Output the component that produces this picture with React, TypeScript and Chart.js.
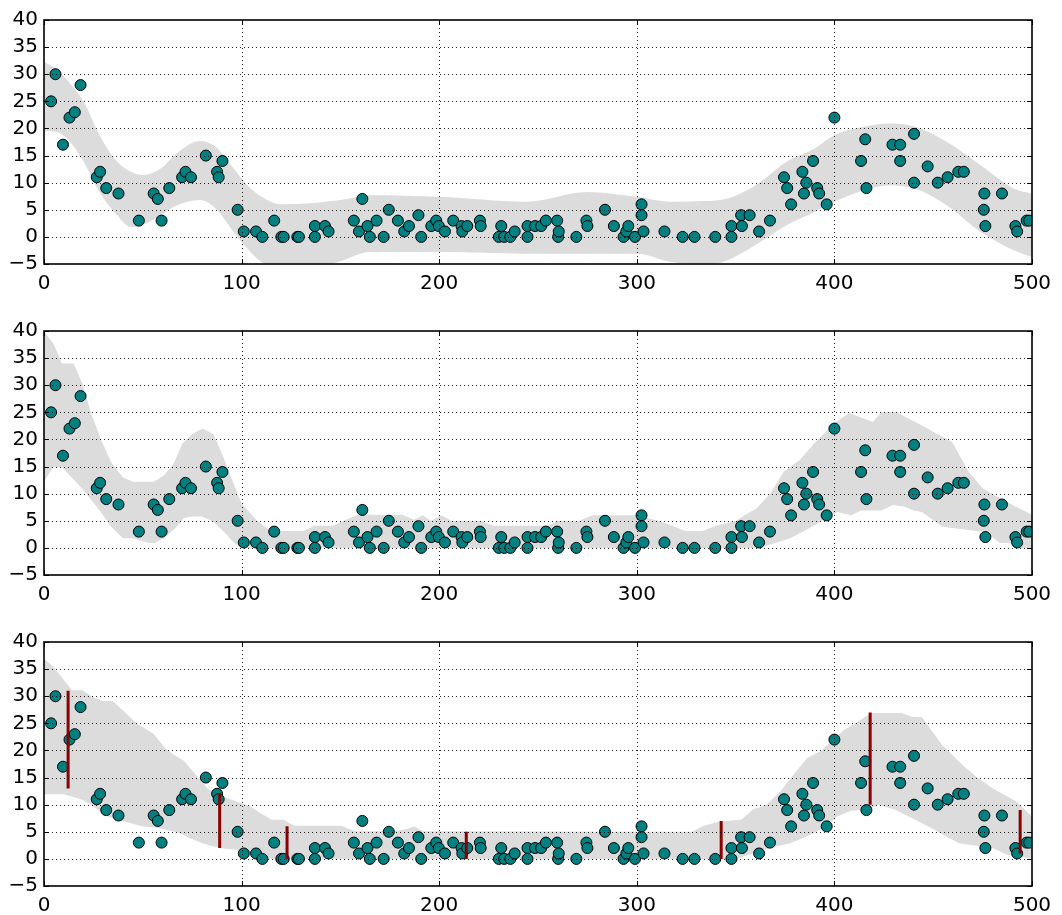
import React, { useEffect, useRef } from 'react';
import { Chart, registerables } from 'chart.js';
Chart.register(...registerables);

// ---- scatter observations (same in all panels) ----
const pointX = [
  3.6, 5.8, 9.6, 12.9, 15.6, 18.5, 26.7, 28.4, 31.5, 37.7, 48.0, 55.5, 57.6, 59.5, 63.4, 69.9, 71.6, 74.4,
  81.9, 87.6, 88.4, 90.3, 98.0, 101.1, 107.3, 110.5, 116.5, 120.1, 121.3, 128.2, 129.0, 137.1, 137.1, 142.2,
  144.0, 156.8, 159.4, 161.1, 163.7, 164.9, 168.3, 171.9, 174.5, 179.1, 182.3, 184.7, 189.5, 190.9, 196.0,
  198.5, 199.8, 202.9, 207.1, 211.3, 211.7, 214.2, 220.6, 221.0, 230.2, 231.4, 232.9, 236.0, 238.2, 244.7,
  244.7, 248.5, 251.6, 254.0, 259.7, 260.2, 260.5, 269.4, 274.5, 275.0, 283.9, 288.4, 293.3, 294.7, 295.7,
  299.1, 302.4, 302.4, 303.4, 314.0, 323.2, 329.2, 339.7, 347.9, 347.9, 352.8, 353.2, 357.1, 361.9, 367.4,
  374.5, 376.1, 378.1, 383.8, 384.6, 385.8, 389.2, 391.3, 392.3, 396.1, 400.0, 413.5, 415.6, 416.2, 429.4,
  433.3, 433.3, 440.3, 440.3, 447.2, 452.3, 457.3, 462.7, 465.5, 475.9, 475.6, 476.4, 484.8, 491.6, 492.5,
  497.3, 498.6,
];
const pointY = [
  25, 30, 17, 22, 23, 28, 11, 12, 9, 8, 3, 8, 7, 3, 9, 11, 12, 11,
  15, 12, 11, 14, 5, 1, 1, 0, 3, 0, 0, 0, 0, 2, 0, 2,
  1, 3, 1, 7, 2, 0, 3, 0, 5, 3, 1, 2, 4, 0, 2,
  3, 2, 1, 3, 2, 1, 2, 3, 2, 0, 2, 0, 0, 1, 2,
  0, 2, 2, 3, 3, 0, 1, 0, 3, 2, 5, 2, 0, 1, 2,
  0, 6, 4, 1, 1, 0, 0, 0, 0, 2, 4, 2, 4, 1, 3,
  11, 9, 6, 12, 8, 10, 14, 9, 8, 6, 22, 14, 18, 9, 17,
  17, 14, 19, 10, 13, 10, 11, 12, 12, 8, 5, 2, 8, 2, 1,
  3, 3,
];

// ---- panel 1: smooth band ----
const band1X = [0, 6, 12, 20, 28, 37, 44, 50, 59, 67, 79, 87, 96, 103, 111, 120, 135, 150, 165, 200, 244, 275, 300, 317, 334, 346, 360, 376, 390, 400, 415, 427, 441, 457, 474, 491, 500];
const band1Upper = [32.3, 31, 28.8, 25, 18.8, 13.9, 12, 11.4, 12.6, 15.4, 17.7, 16.6, 12.6, 9.5, 7.2, 6.0, 6.2, 6.8, 7.7, 7.4, 6.5, 8.3, 7.4, 6.5, 6.6, 7.1, 9.5, 13.9, 16.3, 18.8, 20.3, 20.9, 20.3, 17.5, 13.2, 8.9, 8.0];
const band1Lower = [19.5, 19.4, 18, 13.9, 8.3, 4.0, 1.8, 2.2, 4.0, 5.8, 6.8, 5.2, 0.9, -2.2, -4.9, -6, -6, -4.5, -2.8, -2.8, -3.1, -3.1, -3.1, -4.6, -5.2, -4.3, -1.5, 2.2, 4.6, 6.5, 8.6, 9.5, 8.9, 5.8, 0.9, -2.5, -3.7];

// ---- panel 2: piecewise band ----
const band2UpperX = [0, 5, 9, 15, 19.4, 23.7, 28.8, 34, 40, 45, 55.4, 60.5, 65.6, 70, 75, 80.2, 85.7, 90.5, 95.6, 100, 107.6, 114.5, 131.6, 136.8, 146.2, 152.2, 159, 181.3, 187.3, 191.6, 195.9, 201, 206.2, 220.7, 227.6, 255, 260, 271, 277.6, 299, 311, 317.8, 324.6, 333.2, 340, 350.3, 354.5, 360.5, 367.4, 374.2, 382.7, 389.6, 396.4, 400.7, 407.5, 419.5, 423.8, 431.5, 442.6, 459.7, 468, 475, 488.7, 500];
const band2UpperY = [40, 37.5, 34, 34, 30.3, 25, 20, 15.8, 13, 12.2, 12.2, 13.3, 15.5, 19.2, 21, 22, 21, 17, 12.2, 8.2, 5.1, 3.1, 3.1, 4.1, 4.1, 5.1, 6.1, 6.1, 5.2, 6.0, 5, 6.0, 5, 5, 4.1, 4.1, 5, 5, 6, 6, 5, 4.1, 3.1, 3.1, 4.1, 5, 6, 7.2, 10, 14, 16.3, 19.2, 21.7, 23.2, 24.9, 23.2, 25, 25, 22.9, 19.5, 14, 11, 8.2, 6.1];
const band2LowerX = [0, 4.8, 9, 19.4, 28.8, 34, 40, 45, 52.8, 56.2, 61.4, 66.5, 70.8, 75, 80, 85.7, 91.3, 96.5, 100.8, 362, 377.6, 389.6, 401.5, 408.4, 413.5, 423.8, 429.7, 435.7, 440, 444.3, 454.5, 476.8, 483.7, 491.3, 493.8, 500];
const band2LowerY = [12.2, 14.9, 14.9, 10.9, 6.6, 3.9, 1.8, 1.8, 0.9, 0.9, 2, 3.6, 5.5, 5.8, 5.8, 4.8, 2.9, 0.8, 0, 0, 1.8, 4.1, 6.6, 6.0, 6.9, 6.9, 7.9, 7.6, 6.9, 6.6, 3.9, 2.9, 0.9, 0.9, 0, 0];

// ---- panel 3: band + error bars ----
const band3UpperX = [0, 4.8, 14.2, 19.4, 24.5, 29.6, 34.8, 40.8, 46.8, 51, 55.4, 61.4, 65.6, 70.8, 76.8, 82.8, 90.5, 97.3, 104.2, 110.2, 115.3, 121.3, 126.5, 150.5, 157.3, 176.2, 183, 187.3, 191.6, 328, 333.2, 341.7, 352.8, 358.8, 365.6, 372.5, 379.3, 386.2, 393, 399, 405, 411.8, 418.6, 434, 439.1, 444.3, 454.5, 464.8, 471.6, 480.2, 492.1, 500];
const band3UpperY = [36.9, 35.4, 31.1, 31.1, 29.9, 29.1, 29.1, 27.1, 25, 24.1, 23.1, 20.4, 19.2, 18.1, 15.5, 13, 11.5, 10.6, 9.7, 8.3, 7.2, 7.2, 6.1, 6.1, 5.1, 5.1, 5.4, 6.0, 5.1, 5, 6.0, 6.9, 7.2, 9.1, 10, 12.4, 15.5, 18.6, 19.9, 21.9, 23.8, 25.3, 26.9, 26.9, 26.2, 26.1, 21, 17.3, 15.2, 13, 10.6, 7.8];
const band3LowerX = [0, 10, 14, 19.4, 23.7, 32.2, 40.8, 49.4, 58, 68.2, 73.4, 80.2, 88.8, 97.3, 106, 114.5, 350.3, 357, 367.4, 377.6, 384.5, 394.7, 401.5, 408.4, 417, 422, 430.6, 445.9, 463, 480.2, 487, 500];
const band3LowerY = [11.9, 11.9, 11.5, 10.9, 10, 7.8, 6.9, 6, 5.7, 4.8, 3.9, 2.9, 2, 1.7, 0.8, 0, 0, 0.8, 2, 2.9, 3.9, 5.7, 7.8, 8.9, 9.1, 10, 9.1, 6.3, 2.9, 2, 0.8, 0];

const errX = [12.2, 88.9, 123, 213.7, 342.7, 418.1, 494];
const errLow = [13, 2, 0, 0, 0, 10, 1];
const errHigh = [31, 12, 6, 5, 7, 27, 9];

const xTicks = [0, 100, 200, 300, 400, 500];
const yTicks = [-5, 0, 5, 10, 15, 20, 25, 30, 35, 40];

const TEAL = '#008080';
const BAND = '#dcdcdc';
const RED = '#8b0000';
const FONT = { family: '"DejaVu Sans", sans-serif', size: 20 };

const zip = (xs: number[], ys: number[]) => xs.map((x, i) => ({ x, y: ys[i] }));

const decor = {
  id: 'decor',
  afterDatasetsDraw(chart: any) {
    const { ctx, chartArea: a, scales } = chart;
    const xs = scales.x;
    const ys = scales.y;
    ctx.save();
    ctx.beginPath();
    ctx.rect(a.left, a.top, a.right - a.left, a.bottom - a.top);
    ctx.clip();
    ctx.strokeStyle = 'rgba(0,0,0,0.85)';
    ctx.lineWidth = 1;
    ctx.setLineDash([1, 3]);
    for (const v of xTicks) {
      const px = Math.round(xs.getPixelForValue(v)) + 0.5;
      if (px <= a.left + 2 || px >= a.right - 2) continue;
      ctx.beginPath();
      ctx.moveTo(px, a.top);
      ctx.lineTo(px, a.bottom);
      ctx.stroke();
    }
    for (const v of yTicks) {
      const py = Math.round(ys.getPixelForValue(v)) + 0.5;
      if (py <= a.top + 2 || py >= a.bottom - 2) continue;
      ctx.beginPath();
      ctx.moveTo(a.left, py);
      ctx.lineTo(a.right, py);
      ctx.stroke();
    }
    ctx.restore();
    ctx.save();
    ctx.setLineDash([]);
    ctx.strokeStyle = '#000';
    ctx.lineWidth = 1;
    const L = 5;
    for (const v of xTicks) {
      const px = Math.round(xs.getPixelForValue(v)) + 0.5;
      ctx.beginPath();
      ctx.moveTo(px, a.bottom);
      ctx.lineTo(px, a.bottom - L);
      ctx.moveTo(px, a.top);
      ctx.lineTo(px, a.top + L);
      ctx.stroke();
    }
    for (const v of yTicks) {
      const py = Math.round(ys.getPixelForValue(v)) + 0.5;
      ctx.beginPath();
      ctx.moveTo(a.left, py);
      ctx.lineTo(a.left + L, py);
      ctx.moveTo(a.right, py);
      ctx.lineTo(a.right - L, py);
      ctx.stroke();
    }
    ctx.lineWidth = 1.6;
    ctx.strokeRect(a.left, a.top, a.right - a.left, a.bottom - a.top);
    ctx.restore();
  },
};

function makeConfig(upper: { x: number; y: number }[], lower: { x: number; y: number }[], smooth: boolean, withErr: boolean) {
  const datasets: any[] = [];
  if (withErr) {
    const errData: any[] = [];
    errX.forEach((x, i) => {
      errData.push({ x, y: errLow[i] });
      errData.push({ x, y: errHigh[i] });
      errData.push({ x, y: null });
    });
    datasets.push({
      type: 'line',
      data: errData,
      borderColor: RED,
      borderWidth: 3,
      pointRadius: 0,
      spanGaps: false,
      fill: false,
      order: 0,
      borderCapStyle: 'butt',
    });
  }
  datasets.push({
    type: 'scatter',
    data: zip(pointX, pointY),
    backgroundColor: TEAL,
    borderColor: '#000',
    borderWidth: 1,
    pointRadius: 5.5,
    order: 1,
  });
  const lowerIndex = datasets.length;
  datasets.push({
    type: 'line',
    data: lower,
    borderColor: 'rgba(0,0,0,0)',
    borderWidth: 0,
    pointRadius: 0,
    fill: false,
    cubicInterpolationMode: smooth ? 'monotone' : 'default',
    tension: 0,
    order: 3,
  });
  datasets.push({
    type: 'line',
    data: upper,
    borderColor: 'rgba(0,0,0,0)',
    borderWidth: 0,
    pointRadius: 0,
    fill: { target: lowerIndex },
    backgroundColor: BAND,
    cubicInterpolationMode: smooth ? 'monotone' : 'default',
    tension: 0,
    order: 2,
  });
  return {
    type: 'scatter',
    data: { datasets },
    plugins: [decor],
    options: {
      animation: false,
      responsive: false,
      maintainAspectRatio: false,
      events: [],
      layout: { padding: { left: 0, right: 30, top: 20, bottom: 0 } },
      plugins: {
        legend: { display: false },
        tooltip: { enabled: false },
        filler: { drawTime: 'beforeDatasetsDraw' },
      },
      scales: {
        x: {
          type: 'linear',
          min: 0,
          max: 500,
          afterBuildTicks: (s: any) => { s.ticks = xTicks.map((v) => ({ value: v })); },
          ticks: { font: FONT, color: '#000', padding: 8, maxRotation: 0, autoSkip: false },
          grid: { display: false, drawTicks: false },
          border: { display: false },
          afterFit: (s: any) => { s.height = 29; },
        },
        y: {
          type: 'linear',
          min: -5,
          max: 40,
          afterBuildTicks: (s: any) => { s.ticks = yTicks.map((v) => ({ value: v })); },
          ticks: {
            font: FONT,
            color: '#000',
            padding: 6,
            autoSkip: false,
            callback: (v: number) => (v < 0 ? '\u2212' + Math.abs(v) : String(v)),
          },
          grid: { display: false, drawTicks: false },
          border: { display: false },
          afterFit: (s: any) => { s.width = 44; },
        },
      },
    },
  };
}

export default function App() {
  const r1 = useRef<HTMLCanvasElement>(null);
  const r2 = useRef<HTMLCanvasElement>(null);
  const r3 = useRef<HTMLCanvasElement>(null);

  useEffect(() => {
    const charts: Chart[] = [];
    if (r1.current) charts.push(new Chart(r1.current, makeConfig(zip(band1X, band1Upper), zip(band1X, band1Lower), true, false) as any));
    if (r2.current) charts.push(new Chart(r2.current, makeConfig(zip(band2UpperX, band2UpperY), zip(band2LowerX, band2LowerY), false, false) as any));
    if (r3.current) charts.push(new Chart(r3.current, makeConfig(zip(band3UpperX, band3UpperY), zip(band3LowerX, band3LowerY), false, true) as any));
    return () => charts.forEach((c) => c.destroy());
  }, []);

  const cstyle = (top: number): React.CSSProperties => ({ position: 'absolute', left: 0, top, width: 1062, height: 293 });
  return (
    <div style={{ position: 'absolute', left: 0, top: 0, width: 1062, height: 915, overflow: 'hidden', background: '#fff' }}>
      <canvas ref={r1} width={1062} height={293} style={cstyle(0)} />
      <canvas ref={r2} width={1062} height={293} style={cstyle(311)} />
      <canvas ref={r3} width={1062} height={293} style={cstyle(622)} />
    </div>
  );
}
